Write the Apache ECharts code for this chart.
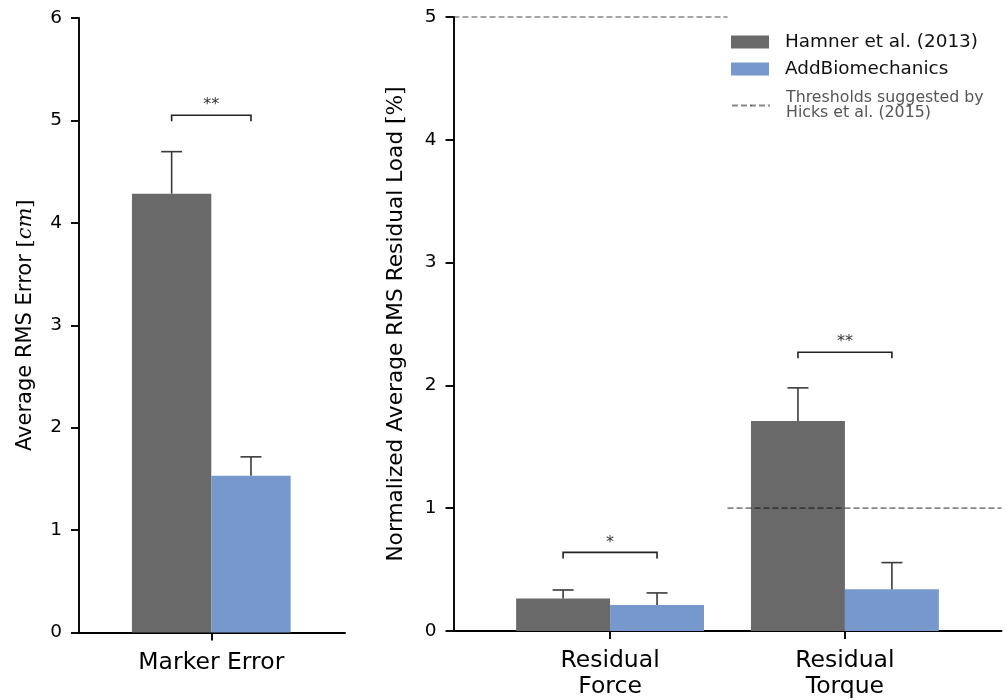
<!DOCTYPE html>
<html><head><meta charset="utf-8">
<script src="https://cdn.jsdelivr.net/npm/echarts@6/dist/echarts.min.js"></script>
<style>html,body{margin:0;padding:0;background:#fff}#c{width:1007px;height:700px}</style>
</head><body><div id="c"></div>
<script>
// ---- data ----
const seriesNames = ['Hamner et al. (2013)', 'AddBiomechanics'];
const thresholdName = 'Thresholds suggested by\nHicks et al. (2015)';
const leftCategories = ['Marker Error'];
const rightCategories = ['Residual\nForce', 'Residual\nTorque'];
const leftHamner = [4.285];
const leftHamnerErr = [0.41];
const leftAdd = [1.53];
const leftAddErr = [0.185];
const rightHamner = [0.264, 1.71];
const rightHamnerErr = [0.07, 0.27];
const rightAdd = [0.212, 0.34];
const rightAddErr = [0.098, 0.217];
const rightThresholds = [5, 1];
const leftSigLevels = [5.05];
const leftSigText = ['**'];
const rightSigLevels = [0.64, 2.27];
const rightSigText = ['*', '**'];

// ---- style / layout ----
const FONT = 'DejaVu Sans';
const GRAY = '#696969';
const BLUE = '#7698cc';
const ERRC = '#3a3a3a';
const BAR_W = 0.4;
const LEFT_X = [-0.667, 0.674];
const RIGHT_X = [-2 / 3, 5 / 3];

function barData(vals) { return vals.map((v, i) => [i, v]); }
function errData(vals, errs) { return vals.map((v, i) => [i, v, errs[i]]); }
function sigData(levels) { return levels.map((l, i) => [i, l]); }

function makeBarRender(offset) {
  return function (params, api) {
    const x = api.value(0) + offset, y = api.value(1);
    const p0 = api.coord([x - BAR_W / 2, y]);
    const p1 = api.coord([x + BAR_W / 2, 0]);
    return { type: 'rect', shape: { x: p0[0], y: p0[1], width: p1[0] - p0[0], height: p1[1] - p0[1] },
      style: { fill: api.visual('color') } };
  };
}
function makeErrRender(offset) {
  return function (params, api) {
    const x = api.value(0) + offset, y = api.value(1), e = api.value(2);
    const a = api.coord([x, y]), b = api.coord([x, y + e]);
    return { type: 'group', children: [
      { type: 'line', shape: { x1: a[0], y1: a[1], x2: b[0], y2: b[1] }, style: { stroke: ERRC, lineWidth: 1.6 } },
      { type: 'line', shape: { x1: b[0] - 10.5, y1: b[1], x2: b[0] + 10.5, y2: b[1] }, style: { stroke: ERRC, lineWidth: 1.6 } }
    ] };
  };
}
function makeSigRender(texts) {
  return function (params, api) {
    const i = api.value(0), lvl = api.value(1);
    const a = api.coord([i - BAR_W / 2, lvl]), b = api.coord([i + BAR_W / 2, lvl]);
    return { type: 'group', children: [
      { type: 'polyline', shape: { points: [[a[0], a[1] + 6], a, b, [b[0], b[1] + 6]] },
        style: { stroke: '#222', lineWidth: 1.6, fill: null } },
      { type: 'text', style: { text: texts[params.dataIndex], x: (a[0] + b[0]) / 2, y: a[1] - 2,
        align: 'center', verticalAlign: 'bottom', fill: '#333', font: '16px "' + FONT + '"' } }
    ] };
  };
}
function thresholdSegments(th, xr) {
  return th.map((t, i) => [[i === 0 ? xr[0] : i - 0.5, t], [i === th.length - 1 ? xr[1] : i + 0.5, t]]);
}

const axisLineStyle = { color: '#000', width: 1.9 };
function xAxis(gi, range, cats) {
  return {
    type: 'value', gridIndex: gi, min: range[0], max: range[1], splitLine: { show: false },
    axisLine: { show: true, lineStyle: axisLineStyle, onZero: false },
    axisTick: { show: true, customValues: cats.map((c, i) => i), length: 8, lineStyle: axisLineStyle },
    axisLabel: { customValues: cats.map((c, i) => i), formatter: v => cats[Math.round(v)] || '',
      fontFamily: FONT, fontSize: 23.5, color: '#000', margin: 17, lineHeight: 26 }
  };
}
function yAxis(gi, max, name, gap, nameSize) {
  return {
    type: 'value', gridIndex: gi, min: 0, max: max, interval: 1, splitLine: { show: false },
    axisLine: { show: true, lineStyle: axisLineStyle, onZero: false },
    axisTick: { show: true, length: 8, lineStyle: axisLineStyle },
    axisLabel: { fontFamily: FONT, fontSize: 18.5, color: '#000', margin: 17 },
    name: name, nameLocation: 'middle', nameGap: gap,
    nameTextStyle: { fontFamily: FONT, fontSize: nameSize, color: '#000',
      rich: { b: { fontFamily: 'DejaVu Serif', fontSize: nameSize, color: '#000' },
              i: { fontFamily: 'DejaVu Serif', fontStyle: 'italic', fontSize: nameSize, color: '#000' } } }
  };
}

const series = [];
function addPanel(gi, hamner, hamnerErr, add, addErr, sigLevels, sigText) {
  series.push({ type: 'custom', name: seriesNames[0], xAxisIndex: gi, yAxisIndex: gi, itemStyle: { color: GRAY },
    renderItem: makeBarRender(-BAR_W / 2), data: barData(hamner), z: 2 });
  series.push({ type: 'custom', name: seriesNames[1], xAxisIndex: gi, yAxisIndex: gi, itemStyle: { color: BLUE },
    renderItem: makeBarRender(BAR_W / 2), data: barData(add), z: 2 });
  series.push({ type: 'custom', xAxisIndex: gi, yAxisIndex: gi, renderItem: makeErrRender(-BAR_W / 2),
    data: errData(hamner, hamnerErr), z: 3, silent: true });
  series.push({ type: 'custom', xAxisIndex: gi, yAxisIndex: gi, renderItem: makeErrRender(BAR_W / 2),
    data: errData(add, addErr), z: 3, silent: true });
  series.push({ type: 'custom', xAxisIndex: gi, yAxisIndex: gi, renderItem: makeSigRender(sigText),
    data: sigData(sigLevels), z: 3, silent: true, clip: false });
}
addPanel(0, leftHamner, leftHamnerErr, leftAdd, leftAddErr, leftSigLevels, leftSigText);
addPanel(1, rightHamner, rightHamnerErr, rightAdd, rightAddErr, rightSigLevels, rightSigText);
const THR_COLOR = 'rgba(0,0,0,0.47)';
thresholdSegments(rightThresholds, RIGHT_X).forEach(seg => {
  series.push({ type: 'line', name: thresholdName, xAxisIndex: 1, yAxisIndex: 1, data: seg, symbol: 'none',
    clip: false, z: 4, color: THR_COLOR,
    legendIcon: 'path://M0,0h8v2h-8zM10,0h8v2h-8zM20,0h8v2h-8zM30,0h8v2h-8z',
    lineStyle: { color: THR_COLOR, width: 1.7, type: [6, 3] } });
});

const option = {
  animation: false,
  backgroundColor: '#fff',
  grid: [
    { left: 79, width: 266, top: 18, height: 614.5 },
    { left: 453.5, width: 548, top: 17, height: 614.7 }
  ],
  xAxis: [xAxis(0, LEFT_X, leftCategories), xAxis(1, RIGHT_X, rightCategories)],
  yAxis: [
    yAxis(0, 6, 'Average RMS Error {b|[}{i|cm}{b|]}', 43, 21),
    yAxis(1, 5, 'Normalized Average RMS Residual Load {b|[%]}', 46, 21.7)
  ],
  legend: [
    { data: seriesNames.map(n => ({ name: n, icon: 'rect' })), orient: 'vertical', left: 731, top: 32,
      itemWidth: 38, itemHeight: 13, itemGap: 7, padding: 0, selectedMode: false,
      textStyle: { fontFamily: FONT, fontSize: 18.4, color: '#111', lineHeight: 20, padding: [0, 0, 0, 11] } },
    { data: [{ name: thresholdName }], orient: 'vertical', left: 731, top: 90,
      itemWidth: 38, itemHeight: 2, padding: 0, selectedMode: false,
      textStyle: { fontFamily: FONT, fontSize: 15.8, color: '#555', lineHeight: 15, padding: [0, 0, 0, 11] } }
  ],
  series: series
};
echarts.init(document.getElementById('c'), null, { renderer: 'canvas' }).setOption(option);
</script>
</body></html>
